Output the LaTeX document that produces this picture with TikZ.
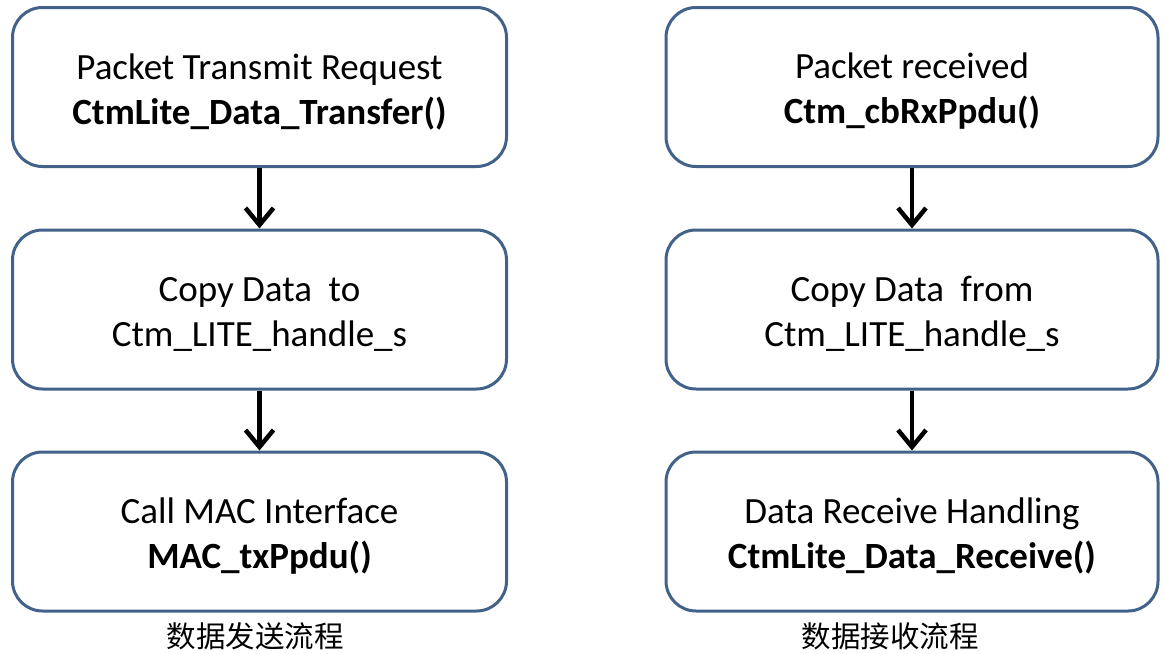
\documentclass[tikz,border=0pt]{standalone}
\usepackage{fontspec}
\setmainfont{Carlito}
\newfontfamily\cjk{Noto Sans CJK SC}
\usetikzlibrary{arrows.meta}
\definecolor{boxblue}{HTML}{43628A}
\begin{document}
\begin{tikzpicture}[x=1pt,y=-1pt,
  flowbox/.style={draw=boxblue,line width=3pt,rounded corners=30pt,fill=white,
    minimum width=494pt,minimum height=159pt,inner sep=0pt},
  boxtext/.style={align=center,inner sep=0pt,font=\fontsize{37}{45}\selectfont},
  flowarrow/.style={line width=4.5pt,-{Straight Barb[length=17pt,width=28pt,line width=4.5pt]}},
  caption/.style={font=\cjk\fontsize{29.5}{32}\selectfont}]
\useasboundingbox (0,0) rectangle (1166,653);
\node[flowbox] (a1) at (259.5,87) {};
\node[flowbox] (a2) at (259.5,309.5) {};
\node[flowbox] (a3) at (259.5,531.5) {};
\node[flowbox,minimum width=492pt] (b1) at (912,87) {};
\node[flowbox,minimum width=492pt] (b2) at (912,309.5) {};
\node[flowbox,minimum width=492pt] (b3) at (912,531.5) {};
\node[boxtext] (ta1) at ([yshift=-4.5pt]a1.center) {Packet Transmit Request\\\textbf{CtmLite\_Data\_Transfer()}};
\node[boxtext] (ta2) at ([yshift=-4.5pt]a2.center) {Copy Data\ \ to\\Ctm\_LITE\_handle\_s};
\node[boxtext] (ta3) at ([yshift=-4.5pt]a3.center) {Call MAC Interface\\\textbf{MAC\_txPpdu()}};
\node[boxtext] (tb1) at ([yshift=-4.5pt]b1.center) {Packet received\\\textbf{Ctm\_cbRxPpdu()}};
\node[boxtext] (tb2) at ([yshift=-4.5pt]b2.center) {Copy Data\ \ from\\Ctm\_LITE\_handle\_s};
\node[boxtext] (tb3) at ([yshift=-4.5pt]b3.center) {Data Receive Handling\\\textbf{CtmLite\_Data\_Receive()}};
\draw[flowarrow] (a1) -- (a2);
\draw[flowarrow] (a2) -- (a3);
\draw[flowarrow] (b1) -- (b2);
\draw[flowarrow] (b2) -- (b3);
\node[caption] (c1) at (255,636) {数据发送流程};
\node[caption] (c2) at (890,636) {数据接收流程};
\end{tikzpicture}
\end{document}
